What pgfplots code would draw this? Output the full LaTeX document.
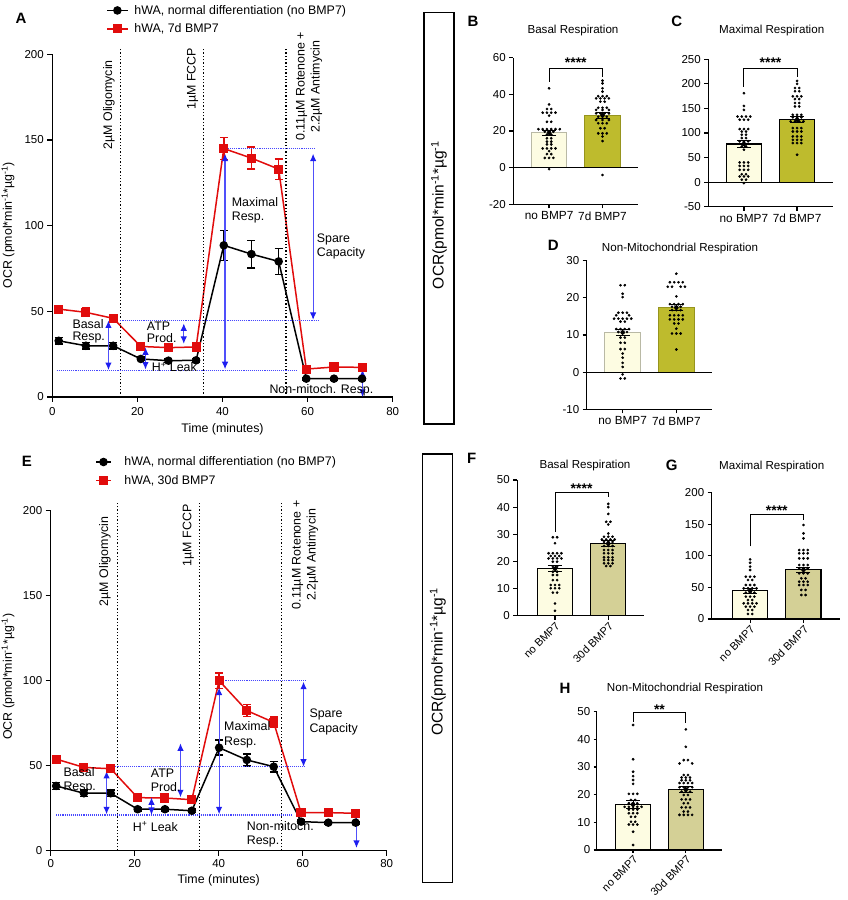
\documentclass[border=0pt]{standalone}
\usepackage{fontspec}
\setmainfont{Liberation Sans}
\usepackage{pgfplots}
\pgfplotsset{compat=1.18}
\usetikzlibrary{arrows.meta}

\definecolor{ocrred}{RGB}{225,12,12}
\definecolor{annblue}{RGB}{30,30,240}
\definecolor{shaftblue}{RGB}{80,80,250}
\definecolor{dotblue}{RGB}{70,70,255}
\definecolor{creamfill}{RGB}{253,252,226}
\definecolor{olivefill}{RGB}{190,187,45}
\definecolor{khakifill}{RGB}{212,208,150}
\definecolor{creamedge}{RGB}{185,185,165}
\definecolor{oliveedge}{RGB}{150,148,30}

\newcommand\ticksz{\fontsize{11.5pt}{13.8pt}\selectfont}
\newcommand\catsz{\fontsize{11.8pt}{13.8pt}\selectfont}
\newcommand\rotcatsz{\fontsize{11pt}{13pt}\selectfont}
\newcommand\txtsz{\fontsize{12.4pt}{14.2pt}\selectfont}
\newcommand\rotsz{\fontsize{12.4pt}{15pt}\selectfont}
\newcommand\titlesz{\fontsize{11.6pt}{14pt}\selectfont}
\newcommand\lettersz{\fontsize{15pt}{18pt}\selectfont\bfseries}
\newcommand\boxsz{\fontsize{15.5pt}{18pt}\selectfont}
\newcommand\starsz{\fontsize{14pt}{16pt}\selectfont\bfseries}

\tikzset{
  guide/.style={densely dotted, dotblue, line width=1.1pt},
  span/.style={shaftblue, line width=1.2pt,
    {Latex[length=7.5pt,width=6.5pt,color=annblue]}-{Latex[length=7.5pt,width=6.5pt,color=annblue]}},
  inject/.style={black, line width=1.3pt, dash pattern=on 1.3pt off 2pt},
}

\pgfplotsset{
  ocrline/.style={
    scale only axis, clip=false,
    axis lines=left, axis line style={-, line width=1.5pt},
    xmin=0, xmax=80, ymin=0, ymax=200,
    xtick={0,20,...,80}, ytick={0,50,...,200},
    tick align=outside, major tick length=5pt,
    tick style={line width=1.5pt, black},
    ticklabel style={font=\ticksz},
    /pgf/number format/assume math mode=true,
    legend cell align=left,
  },
  noBMP/.style={black, line width=1.5pt, mark=*, mark size=3.5pt,
    error bars/.cd, y dir=both, y explicit,
    error bar style={line width=1.5pt},
    error mark options={rotate=90, mark size=4pt, line width=1.5pt}},
  withBMP/.style={ocrred, line width=1.5pt, mark=square*, mark size=3.8pt,
    error bars/.cd, y dir=both, y explicit,
    error bar style={line width=1.5pt},
    error mark options={rotate=90, mark size=4pt, line width=1.5pt}},
  barpanel/.style={
    scale only axis, clip=false,
    axis x line=bottom, axis y line=left, axis line style={-, line width=1.2pt},
    xtick={0,1},
    tick align=outside, major tick length=4pt,
    tick style={line width=1.2pt, black},
    yticklabel style={font=\ticksz},
    xticklabel style={font=\catsz},
    /pgf/number format/assume math mode=true,
  },
  rotcats/.style={xticklabel style={rotate=45, anchor=north east, inner sep=1pt, font=\rotcatsz}},
  sem/.style={only marks, mark=none, black,
    error bars/.cd, y dir=both, y explicit,
    error bar style={line width=0.8pt},
    error mark options={rotate=90, mark size=7pt, line width=0.8pt}},
  pts/.style={only marks, mark=*, mark size=1.15pt, black},
}

\begin{document}
\begin{tikzpicture}
\useasboundingbox (0pt,0pt) rectangle (847pt,900pt);

% ---------------- Panel A: OCR trace, 7d BMP7 ----------------
\begin{axis}[ocrline, at={(52.3pt,503pt)}, anchor=south west,
  width=340.4pt, height=342.7pt,
  xticklabel style={yshift=-1.5pt},
  legend style={at={(axis description cs:0.158,1.101)}, anchor=west,
    draw=none, fill=none, inner sep=0pt, font=\txtsz,
    row sep=8pt, column sep=6pt,
    nodes={inner sep=0pt, anchor=west}},
  legend image code/.code={\draw[mark repeat=2,mark phase=2,#1]
    plot coordinates {(0pt,0pt) (10.35pt,0pt) (20.7pt,0pt)};},
]
\addplot[noBMP] coordinates {
 (1.5,32.8) +- (0,2)   (7.9,29.9) +- (0,2)   (14.3,29.9) +- (0,2)
 (20.8,22.2) +- (0,1)  (27.3,21.2) +- (0,1)  (33.8,21.4) +- (0,1)
 (40.3,88.5) +- (0,8.8) (46.8,83.4) +- (0,8) (53.2,79.1) +- (0,7.6)
 (59.7,10.7) +- (0,0.8) (66.2,10.7) +- (0,0.8) (72.8,10.7) +- (0,0.8)
};
\addlegendentry{hWA, normal differentiation (no BMP7)}
\addplot[withBMP] coordinates {
 (1.5,51.3) +- (0,1.5)  (7.9,49.4) +- (0,2.5)  (14.3,45.9) +- (0,1.5)
 (20.8,29.5) +- (0,1)   (27.3,28.8) +- (0,1)   (33.8,29.2) +- (0,1)
 (40.3,145.0) +- (0,6.5) (46.8,139.4) +- (0,6.4) (53.2,133.0) +- (0,6)
 (59.7,16.3) +- (0,1)   (66.2,17.5) +- (0,1)   (72.8,17.3) +- (0,1)
};
\addlegendentry{hWA, 7d BMP7}
% injection times
\draw[inject] (axis cs:16.07,0) -- (axis cs:16.07,203.6);
\draw[inject] (axis cs:35.6,0) -- (axis cs:35.6,203.6);
\draw[inject] (axis cs:54.9,0) -- (axis cs:54.9,203.6);
% reference levels
\draw[guide] (axis cs:16,44.7) -- (axis cs:62.7,44.7);
\draw[guide] (axis cs:1,15.7) -- (axis cs:57.3,15.7);
\draw[guide] (axis cs:40.3,145) -- (axis cs:62,145);
% parameter spans
\draw[span] (axis cs:13.2,15.7) -- (axis cs:13.2,44.7);
\draw[span] (axis cs:21.9,16) -- (axis cs:21.9,29);
\draw[span] (axis cs:30.9,31) -- (axis cs:30.9,43);
\draw[span] (axis cs:40.6,16.2) -- (axis cs:40.6,142);
\draw[span] (axis cs:61.3,45) -- (axis cs:61.3,142);
\draw[span] (axis cs:72.9,0) -- (axis cs:72.9,16);
\end{axis}

% ---------------- Panel E: OCR trace, 30d BMP7 ----------------
\begin{axis}[ocrline, at={(50.7pt,49.3pt)}, anchor=south west,
  width=336pt, height=340pt,
  legend style={at={(axis description cs:0.132,1.116)}, anchor=west,
    draw=none, fill=none, inner sep=0pt, font=\txtsz,
    row sep=8pt, column sep=12.7pt,
    nodes={inner sep=0pt, anchor=west}},
  legend image code/.code={\draw[mark repeat=2,mark phase=2,#1]
    plot coordinates {(0pt,0pt) (7.5pt,0pt) (15pt,0pt)};},
]
\addplot[noBMP] coordinates {
 (1.3,38.1) +- (0,2)   (7.9,33.8) +- (0,2)   (14.3,33.8) +- (0,2)
 (20.7,24.4) +- (0,1)  (27.2,24.4) +- (0,1)  (33.6,23.5) +- (0,1)
 (40.1,60.6) +- (0,4.4) (46.7,53.4) +- (0,3.5) (53.1,49.4) +- (0,3)
 (59.6,17.1) +- (0,1)  (66.1,16.5) +- (0,0.8) (72.6,16.5) +- (0,0.8)
};
\addlegendentry{hWA, normal differentiation (no BMP7)}
\addplot[withBMP] coordinates {
 (1.3,53.9) +- (0,1.5)  (7.9,49.0) +- (0,1.2)  (14.3,48.2) +- (0,1.5)
 (20.7,31.2) +- (0,1)   (27.2,31.0) +- (0,1)   (33.6,30.0) +- (0,1)
 (40.1,100.0) +- (0,4.6) (46.7,82.4) +- (0,3.5) (53.1,75.5) +- (0,3)
 (59.6,22.4) +- (0,1)   (66.1,22.4) +- (0,1)   (72.6,22.0) +- (0,1)
};
\addlegendentry{hWA, 30d BMP7}
\draw[inject] (axis cs:15.9,0) -- (axis cs:15.9,204.4);
\draw[inject] (axis cs:35.5,0) -- (axis cs:35.5,204.4);
\draw[inject] (axis cs:55.0,0) -- (axis cs:55.0,204.4);
\draw[guide] (axis cs:14.9,49.4) -- (axis cs:60.8,49.4);
\draw[guide] (axis cs:40.1,100) -- (axis cs:60.8,100);
\draw[guide] (axis cs:1.3,21) -- (axis cs:57.4,21);
\draw[span] (axis cs:13.3,21.4) -- (axis cs:13.3,46.9);
\draw[span] (axis cs:24.0,21) -- (axis cs:24.0,31.4);
\draw[span] (axis cs:30.9,31.4) -- (axis cs:30.9,63.2);
\draw[span] (axis cs:40.1,21.4) -- (axis cs:40.1,95.9);
\draw[span] (axis cs:60.2,49.4) -- (axis cs:60.2,99.4);
\draw[span] (axis cs:72.8,1.6) -- (axis cs:72.8,20);
\end{axis}

% ---------------- Panel B ----------------
\begin{axis}[barpanel, at={(513.3pt,695.7pt)}, anchor=south west,
  width=125pt, height=146.6pt, xmin=-0.67, xmax=1.67,
  ymin=-20, ymax=60, ytick={-20,0,...,60},
  xticklabels={no BMP7,7d BMP7}]
\addplot[ybar, bar width=0.66, bar shift=0pt, fill=creamfill, draw=creamedge, line width=1pt] coordinates {(0,19.0)};
\addplot[ybar, bar width=0.66, bar shift=0pt, fill=olivefill, draw=oliveedge, line width=1pt] coordinates {(1,28.6)};
\draw[line width=1.2pt] (axis cs:-0.67,0) -- (axis cs:1.67,0);
\addplot[pts] coordinates {
 (0,43.3) (0,34.5) (-0.04,32) (0.04,32) (-0.12,30) (-0.04,30) (0.04,30) (0.12,30)
 (0,28.4) (-0.04,25) (0.04,25) (-0.2,21) (-0.12,21) (-0.04,21) (0.04,21) (0.12,21) (0.2,21)
 (-0.08,19.6) (0,19.6) (0.08,19.6) (-0.04,18) (0.04,18) (-0.04,16) (0.04,16)
 (-0.04,14.2) (0.04,14.2) (-0.04,12.7) (0.04,12.7) (-0.12,10.5) (-0.04,10.5) (0.04,10.5) (0.12,10.5)
 (0,9) (-0.04,7.4) (0.04,7.4) (-0.08,5.3) (0,5.3) (0.08,5.3) (0,-0.8)
};
\addplot[pts] coordinates {
 (1,47.5) (1,46) (1,43.3) (1,41.5) (0.92,39) (1,39) (1.08,39)
 (0.88,37.8) (0.96,37.8) (1.04,37.8) (1.12,37.8) (0.96,36) (1.04,36)
 (0.92,32.7) (1,32.7) (1.08,32.7) (0.88,31.5) (1,31.5) (1.12,31.5)
 (0.88,29.6) (0.96,29.6) (1.04,29.6) (1.12,29.6) (0.92,27.8) (1,27.8) (1.08,27.8)
 (0.88,26) (1,26) (1.12,26) (0.92,24.2) (1,24.2) (1.08,24.2) (0.96,21.5) (1.04,21.5)
 (0.92,18.7) (1,18.7) (1.08,18.7) (1,17) (1,14.5) (1,-4)
};
\addplot[sem] coordinates {(0,19.0) +- (0,1.3) (1,28.6) +- (0,1.5)};
\draw[line width=0.9pt] (axis cs:0,47) |- (axis cs:1,54.2) -- (axis cs:1,49.6);
\node[font=\starsz, inner sep=0pt] at (axis cs:0.5,57.4) {****};
\end{axis}

% ---------------- Panel C ----------------
\begin{axis}[barpanel, at={(708.3pt,693.3pt)}, anchor=south west,
  width=124.4pt, height=147.4pt, xmin=-0.67, xmax=1.67,
  ymin=-50, ymax=250, ytick={-50,0,...,250},
  xticklabels={no BMP7,7d BMP7}]
\addplot[ybar, bar width=0.66, bar shift=0pt, fill=creamfill, draw=black, line width=1.2pt] coordinates {(0,77.5)};
\addplot[ybar, bar width=0.66, bar shift=0pt, fill=olivefill, draw=black, line width=1.2pt] coordinates {(1,127)};
\draw[line width=1.2pt] (axis cs:-0.67,0) -- (axis cs:1.67,0);
\addplot[pts] coordinates {
 (0,181) (0,155) (0,147) (-0.12,133.5) (-0.04,133.5) (0.04,133.5) (0.12,133.5)
 (-0.08,127) (0,127) (0.08,127) (-0.08,108) (0,108) (0.08,108) (-0.04,103) (0.04,103)
 (-0.04,96.5) (0.04,96.5) (-0.04,89.7) (0.04,89.7) (-0.08,83) (0,83) (0.08,83)
 (-0.04,72.7) (0.04,72.7) (0,66) (-0.08,40) (0,40) (0.08,40) (-0.08,33) (0,33) (0.08,33)
 (-0.08,25) (0,25) (0.08,25) (-0.04,16) (0.04,16) (-0.08,11.5) (0,11.5) (0.08,11.5)
 (-0.04,5) (0.04,5) (0,-2)
};
\addplot[pts] coordinates {
 (1,206) (1,200) (0.96,191.6) (1.04,191.6) (0.96,185) (1.04,185)
 (0.92,174.6) (1,174.6) (1.08,174.6) (0.96,169) (1.04,169) (0.96,161) (1.04,161)
 (0.96,154) (1.04,154) (0.92,137) (1,137) (1.08,137) (0.92,131.8) (1,131.8) (1.08,131.8)
 (0.88,123.6) (0.96,123.6) (1.04,123.6) (1.12,123.6) (0.92,110) (1,110) (1.08,110)
 (0.92,103) (1,103) (1.08,103) (0.92,93) (1,93) (1.08,93) (0.92,86) (1,86) (1.08,86)
 (0.92,79.5) (1,79.5) (1.08,79.5) (1,55.7)
};
\addplot[sem] coordinates {(0,77.5) +- (0,7.5) (1,127) +- (0,6)};
\draw[line width=0.9pt] (axis cs:0,194) |- (axis cs:1,231.7) -- (axis cs:1,214.6);
\node[font=\starsz, inner sep=0pt] at (axis cs:0.5,243.5) {****};
\end{axis}

% ---------------- Panel D ----------------
\begin{axis}[barpanel, at={(586.7pt,490.7pt)}, anchor=south west,
  width=125.6pt, height=148.6pt, xmin=-0.67, xmax=1.67,
  ymin=-10, ymax=30, ytick={-10,0,...,30},
  xticklabels={no BMP7,7d BMP7}]
\addplot[ybar, bar width=0.66, bar shift=0pt, fill=creamfill, draw=creamedge, line width=1pt] coordinates {(0,10.7)};
\addplot[ybar, bar width=0.66, bar shift=0pt, fill=olivefill, draw=oliveedge, line width=1pt] coordinates {(1,17.4)};
\draw[line width=1.2pt] (axis cs:-0.67,0) -- (axis cs:1.67,0);
\addplot[pts] coordinates {
 (-0.04,23.4) (0.04,23.4) (0,21.1) (0,20.2) (-0.08,16) (0,16) (0.08,16)
 (-0.12,15.3) (0.12,15.3) (-0.16,14.4) (-0.08,14.4) (0,14.4) (0.08,14.4) (0.16,14.4)
 (-0.04,13.6) (0.04,13.6) (-0.12,11.6) (-0.04,11.6) (0.04,11.6) (0.12,11.6)
 (-0.08,10.8) (0,10.8) (0.08,10.8) (-0.04,9.3) (0.04,9.3) (-0.04,7.9) (0.04,7.9)
 (-0.04,6.2) (0.04,6.2) (0,5) (0,3.9) (0,2.5) (0,1.4) (0,-0.6) (-0.04,-1.7) (0.04,-1.7)
};
\addplot[pts] coordinates {
 (1,26.5) (0.88,24.2) (0.96,24.2) (1.04,24.2) (1.12,24.2)
 (0.84,23) (0.92,23) (1.08,23) (1.16,23) (1,20.4)
 (0.88,18.3) (0.96,18.3) (1.04,18.3) (1.12,18.3) (0.92,17.6) (1,17.6) (1.08,17.6)
 (0.92,16.7) (1,16.7) (1.08,16.7) (0.88,15.3) (0.96,15.3) (1.04,15.3) (1.12,15.3)
 (0.88,14.2) (0.96,14.2) (1.04,14.2) (1.12,14.2) (0.96,13.1) (1.04,13.1)
 (1,11.7) (0.92,10.4) (1,10.4) (1.08,10.4) (1,6.1)
};
\addplot[sem] coordinates {(0,10.7) +- (0,0.9) (1,17.4) +- (0,0.9)};
\end{axis}

% ---------------- Panel F ----------------
\begin{axis}[barpanel, rotcats, at={(517.3pt,284.3pt)}, anchor=south west,
  width=126.7pt, height=135.7pt, xmin=-0.707, xmax=1.67,
  ymin=0, ymax=50, ytick={0,10,...,50},
  xticklabels={no BMP7,30d BMP7}]
\addplot[ybar, bar width=0.66, bar shift=0pt, fill=creamfill, draw=black, line width=1.2pt] coordinates {(0,17.3)};
\addplot[ybar, bar width=0.66, bar shift=0pt, fill=khakifill, draw=black, line width=1.2pt] coordinates {(1,26.6)};
\addplot[pts] coordinates {
 (-0.04,28.9) (0.04,28.9) (0,26.7) (-0.12,23) (-0.04,23) (0.04,23) (0.12,23)
 (-0.08,22) (0,22) (0.08,22) (-0.12,21.1) (-0.04,21.1) (0.04,21.1) (0.12,21.1)
 (-0.04,19.9) (0.04,19.9) (-0.04,18) (0.04,18) (-0.04,16.2) (0.04,16.2)
 (-0.04,15) (0.04,15) (-0.04,13.1) (0.04,13.1) (-0.08,11.3) (0,11.3) (0.08,11.3)
 (-0.08,10.1) (0,10.1) (0.08,10.1) (-0.04,8.5) (0.04,8.5) (0,4.5) (0,1.8)
};
\addplot[pts] coordinates {
 (1,41.2) (1,40) (1,37.5) (0.96,34.6) (1.04,34.6) (1,33.6) (1,30.3)
 (0.92,29.1) (1,29.1) (1.08,29.1) (0.88,28.1) (0.96,28.1) (1.04,28.1) (1.12,28.1)
 (0.92,27.2) (1,27.2) (1.08,27.2) (0.92,25.7) (1,25.7) (1.08,25.7)
 (0.92,24.2) (1,24.2) (1.08,24.2) (0.92,23) (1,23) (1.08,23)
 (0.92,21.5) (1,21.5) (1.08,21.5) (0.92,20.5) (1,20.5) (1.08,20.5)
 (0.92,19.3) (1,19.3) (1.08,19.3) (0.96,18.3) (1.04,18.3)
};
\addplot[sem] coordinates {(0,17.3) +- (0,1.1) (1,26.6) +- (0,1.0)};
\draw[line width=0.9pt] (axis cs:0,31) |- (axis cs:1,45.3) -- (axis cs:1,43.8);
\node[font=\starsz, inner sep=0pt] at (axis cs:0.5,46.9) {****};
\end{axis}

% ---------------- Panel G ----------------
\begin{axis}[barpanel, rotcats, at={(711.7pt,281pt)}, anchor=south west,
  width=128.3pt, height=126.3pt, xmin=-0.72, xmax=1.685,
  ymin=0, ymax=200, ytick={0,50,...,200},
  xticklabels={no BMP7,30d BMP7}]
\addplot[ybar, bar width=0.66, bar shift=0pt, fill=creamfill, draw=black, line width=1.2pt] coordinates {(0,44.5)};
\addplot[ybar, bar width=0.66, bar shift=0pt, fill=khakifill, draw=black, line width=1.2pt] coordinates {(1,78)};
\addplot[pts] coordinates {
 (0,94.5) (0,89) (0,83) (0,77.6) (-0.08,67) (0,67) (0.08,67) (-0.04,61.7) (0.04,61.7)
 (-0.08,53.8) (0,53.8) (0.08,53.8) (-0.12,48.5) (-0.04,48.5) (0.04,48.5) (0.12,48.5)
 (-0.08,41.7) (0,41.7) (0.08,41.7) (-0.08,35.4) (0,35.4) (0.08,35.4) (-0.04,30) (0.04,30)
 (-0.12,24.8) (-0.04,24.8) (0.04,24.8) (0.12,24.8) (-0.08,19.5) (0,19.5) (0.08,19.5)
 (-0.04,14.2) (0.04,14.2) (-0.04,8) (0.04,8)
};
\addplot[pts] coordinates {
 (1,148.8) (1,135.6) (1,127.7) (0.92,109.2) (1,109.2) (1.08,109.2)
 (0.92,104) (1,104) (1.08,104) (0.92,96) (1,96) (1.08,96)
 (0.92,85.5) (1,85.5) (1.08,85.5) (0.92,80.2) (1,80.2) (1.08,80.2)
 (0.92,72.3) (1,72.3) (1.08,72.3) (0.96,64.4) (1.04,64.4)
 (0.92,59.1) (1,59.1) (1.08,59.1) (0.92,53.8) (1,53.8) (1.08,53.8)
 (0.96,46) (1.04,46) (0.96,38) (1.04,38)
};
\addplot[sem] coordinates {(0,44.5) +- (0,4) (1,78) +- (0,4)};
\draw[line width=0.9pt] (axis cs:0,115) |- (axis cs:1,165.8) -- (axis cs:1,156.8);
\node[font=\starsz, inner sep=0pt] at (axis cs:0.5,171.3) {****};
\end{axis}

% ---------------- Panel H ----------------
\begin{axis}[barpanel, rotcats, at={(596.7pt,50pt)}, anchor=south west,
  width=125pt, height=138.3pt, xmin=-0.69, xmax=1.68,
  ymin=0, ymax=50, ytick={0,10,...,50},
  major tick length=3pt,
  xticklabels={no BMP7,30d BMP7}]
\addplot[ybar, bar width=0.66, bar shift=0pt, fill=creamfill, draw=black, line width=1.2pt] coordinates {(0,16.5)};
\addplot[ybar, bar width=0.66, bar shift=0pt, fill=khakifill, draw=black, line width=1.2pt] coordinates {(1,21.9)};
\addplot[pts] coordinates {
 (0,45.2) (0,32.8) (0,28.3) (0,26.7) (0,25.3) (0,23.9)
 (-0.08,20.3) (0,20.3) (0.08,20.3) (-0.04,18.1) (0.04,18.1)
 (-0.08,16.9) (0,16.9) (0.08,16.9) (-0.16,15.6) (-0.08,15.6) (0,15.6) (0.08,15.6) (0.16,15.6)
 (-0.08,14.6) (0,14.6) (0.08,14.6) (-0.08,13.3) (0,13.3) (0.08,13.3)
 (-0.04,12) (0.04,12) (-0.04,10.2) (0.04,10.2) (-0.08,9.2) (0,9.2) (0.08,9.2) (0,6.6) (0,1.8)
};
\addplot[pts] coordinates {
 (1,43.6) (1,37.3) (0.96,32.5) (1.04,32.5) (0.88,31.3) (1.12,31.3)
 (0.96,27.1) (1.04,27.1) (0.92,26.2) (1,26.2) (1.08,26.2) (0.92,25.2) (1,25.2) (1.08,25.2)
 (0.88,24.2) (0.96,24.2) (1.04,24.2) (1.12,24.2) (0.88,22.7) (0.96,22.7) (1.04,22.7) (1.12,22.7)
 (0.92,21.1) (1,21.1) (1.08,21.1) (0.96,19.9) (1.04,19.9) (0.92,18.3) (1,18.3) (1.08,18.3)
 (0.96,16.9) (1.04,16.9) (0.92,15.4) (1,15.4) (1.08,15.4) (0.96,13.9) (1.04,13.9)
 (0.88,12.7) (0.96,12.7) (1.04,12.7) (1.12,12.7)
};
\addplot[sem] coordinates {(0,16.5) +- (0,1.4) (1,21.9) +- (0,1.2)};
\draw[line width=0.9pt] (axis cs:0,46.4) |- (axis cs:1,49.6) -- (axis cs:1,45.8);
\node[font=\starsz, inner sep=0pt] at (axis cs:0.5,50.9) {**};
\end{axis}

% ---------------- texts of the trace panels ----------------
\begin{scope}[every node/.style={inner sep=0pt}]
% panel A
\node[font=\lettersz] at (21pt,881.7pt) {A};
\node[font=\txtsz, rotate=90] at (8pt,675pt) {OCR (pmol*min\textsuperscript{-1}*µg\textsuperscript{-1})};
\node[font=\txtsz] at (222.5pt,471pt) {Time (minutes)};
\node[font=\rotsz, rotate=90, anchor=east] at (109pt,840pt) {2µM Oligomycin};
\node[font=\rotsz, rotate=90, anchor=east] at (192.7pt,852pt) {1µM FCCP};
\node[font=\rotsz, rotate=90, align=center] at (309.2pt,813.4pt) {0.11µM Rotenone +\\2.2µM Antimycin};
\node[font=\txtsz, anchor=base west] at (72.3pt,571.6pt) {Basal};
\node[font=\txtsz, anchor=base west] at (72.3pt,559pt) {Resp.};
\node[font=\txtsz, anchor=base west] at (146.7pt,569.9pt) {ATP};
\node[font=\txtsz, anchor=base west] at (146.7pt,557.9pt) {Prod.};
\node[font=\txtsz, anchor=base west] at (151.7pt,528.3pt) {H\textsuperscript{+} Leak};
\node[font=\txtsz, anchor=base west] at (231.7pt,693.9pt) {Maximal};
\node[font=\txtsz, anchor=base west] at (231.7pt,679.6pt) {Resp.};
\node[font=\txtsz, anchor=base west] at (316.7pt,657.3pt) {Spare};
\node[font=\txtsz, anchor=base west] at (316.7pt,643.3pt) {Capacity};
\node[font=\txtsz, anchor=base west] at (269.3pt,506.3pt) {Non-mitoch. Resp.};
% panel E
\node[font=\lettersz] at (27pt,439pt) {E};
\node[font=\txtsz, rotate=90] at (8pt,223.3pt) {OCR (pmol*min\textsuperscript{-1}*µg\textsuperscript{-1})};
\node[font=\txtsz] at (218.7pt,19.3pt) {Time (minutes)};
\node[font=\rotsz, rotate=90, anchor=east] at (105pt,383.3pt) {2µM Oligomycin};
\node[font=\rotsz, rotate=90, anchor=east] at (188.3pt,395.7pt) {1µM FCCP};
\node[font=\rotsz, rotate=90, align=center] at (305.2pt,345pt) {0.11µM Rotenone +\\2.2µM Antimycin};
\node[font=\txtsz, anchor=base west] at (63.3pt,123.9pt) {Basal};
\node[font=\txtsz, anchor=base west] at (63.3pt,109.6pt) {Resp.};
\node[font=\txtsz, anchor=base west] at (150.7pt,122.9pt) {ATP};
\node[font=\txtsz, anchor=base west] at (150.7pt,108.9pt) {Prod.};
\node[font=\txtsz, anchor=base west] at (132.7pt,68.9pt) {H\textsuperscript{+} Leak};
\node[font=\txtsz, anchor=base west] at (224pt,169.6pt) {Maximal};
\node[font=\txtsz, anchor=base west] at (224pt,154.9pt) {Resp.};
\node[font=\txtsz, anchor=base west] at (309.3pt,182.3pt) {Spare};
\node[font=\txtsz, anchor=base west] at (309.3pt,167.9pt) {Capacity};
\node[font=\txtsz, anchor=base west] at (246.7pt,69.9pt) {Non-mitoch.};
\node[font=\txtsz, anchor=base west] at (246.7pt,55.6pt) {Resp.};

% shared y-axis boxes of the bar panels
\draw[line width=1.2pt] (424pt,887.3pt) rectangle (454pt,476pt);
\node[font=\boxsz, rotate=90] at (439pt,685pt) {OCR(pmol*min\textsuperscript{-1}*µg\textsuperscript{-1}};
\draw[line width=1.2pt] (422.5pt,446pt) rectangle (452.3pt,17.3pt);
\node[font=\boxsz, rotate=90] at (437.8pt,238.3pt) {OCR(pmol*min\textsuperscript{-1}*µg\textsuperscript{-1}};

% bar panel letters and titles
\node[font=\lettersz] at (473pt,879pt) {B};
\node[font=\lettersz] at (676.7pt,879pt) {C};
\node[font=\lettersz] at (553.3pt,655pt) {D};
\node[font=\lettersz] at (471.7pt,441.7pt) {F};
\node[font=\lettersz] at (671.7pt,435pt) {G};
\node[font=\lettersz] at (565pt,211.7pt) {H};
\node[font=\titlesz, anchor=base] at (573pt,866.8pt) {Basal Respiration};
\node[font=\titlesz, anchor=base] at (771.7pt,866.8pt) {Maximal Respiration};
\node[font=\titlesz, anchor=base] at (680pt,648.5pt) {Non-Mitochondrial Respiration};
\node[font=\titlesz, anchor=base] at (585pt,431.8pt) {Basal Respiration};
\node[font=\titlesz, anchor=base] at (771.7pt,430.1pt) {Maximal Respiration};
\node[font=\titlesz, anchor=base] at (685pt,208.5pt) {Non-Mitochondrial Respiration};
\end{scope}
\end{tikzpicture}
\end{document}
